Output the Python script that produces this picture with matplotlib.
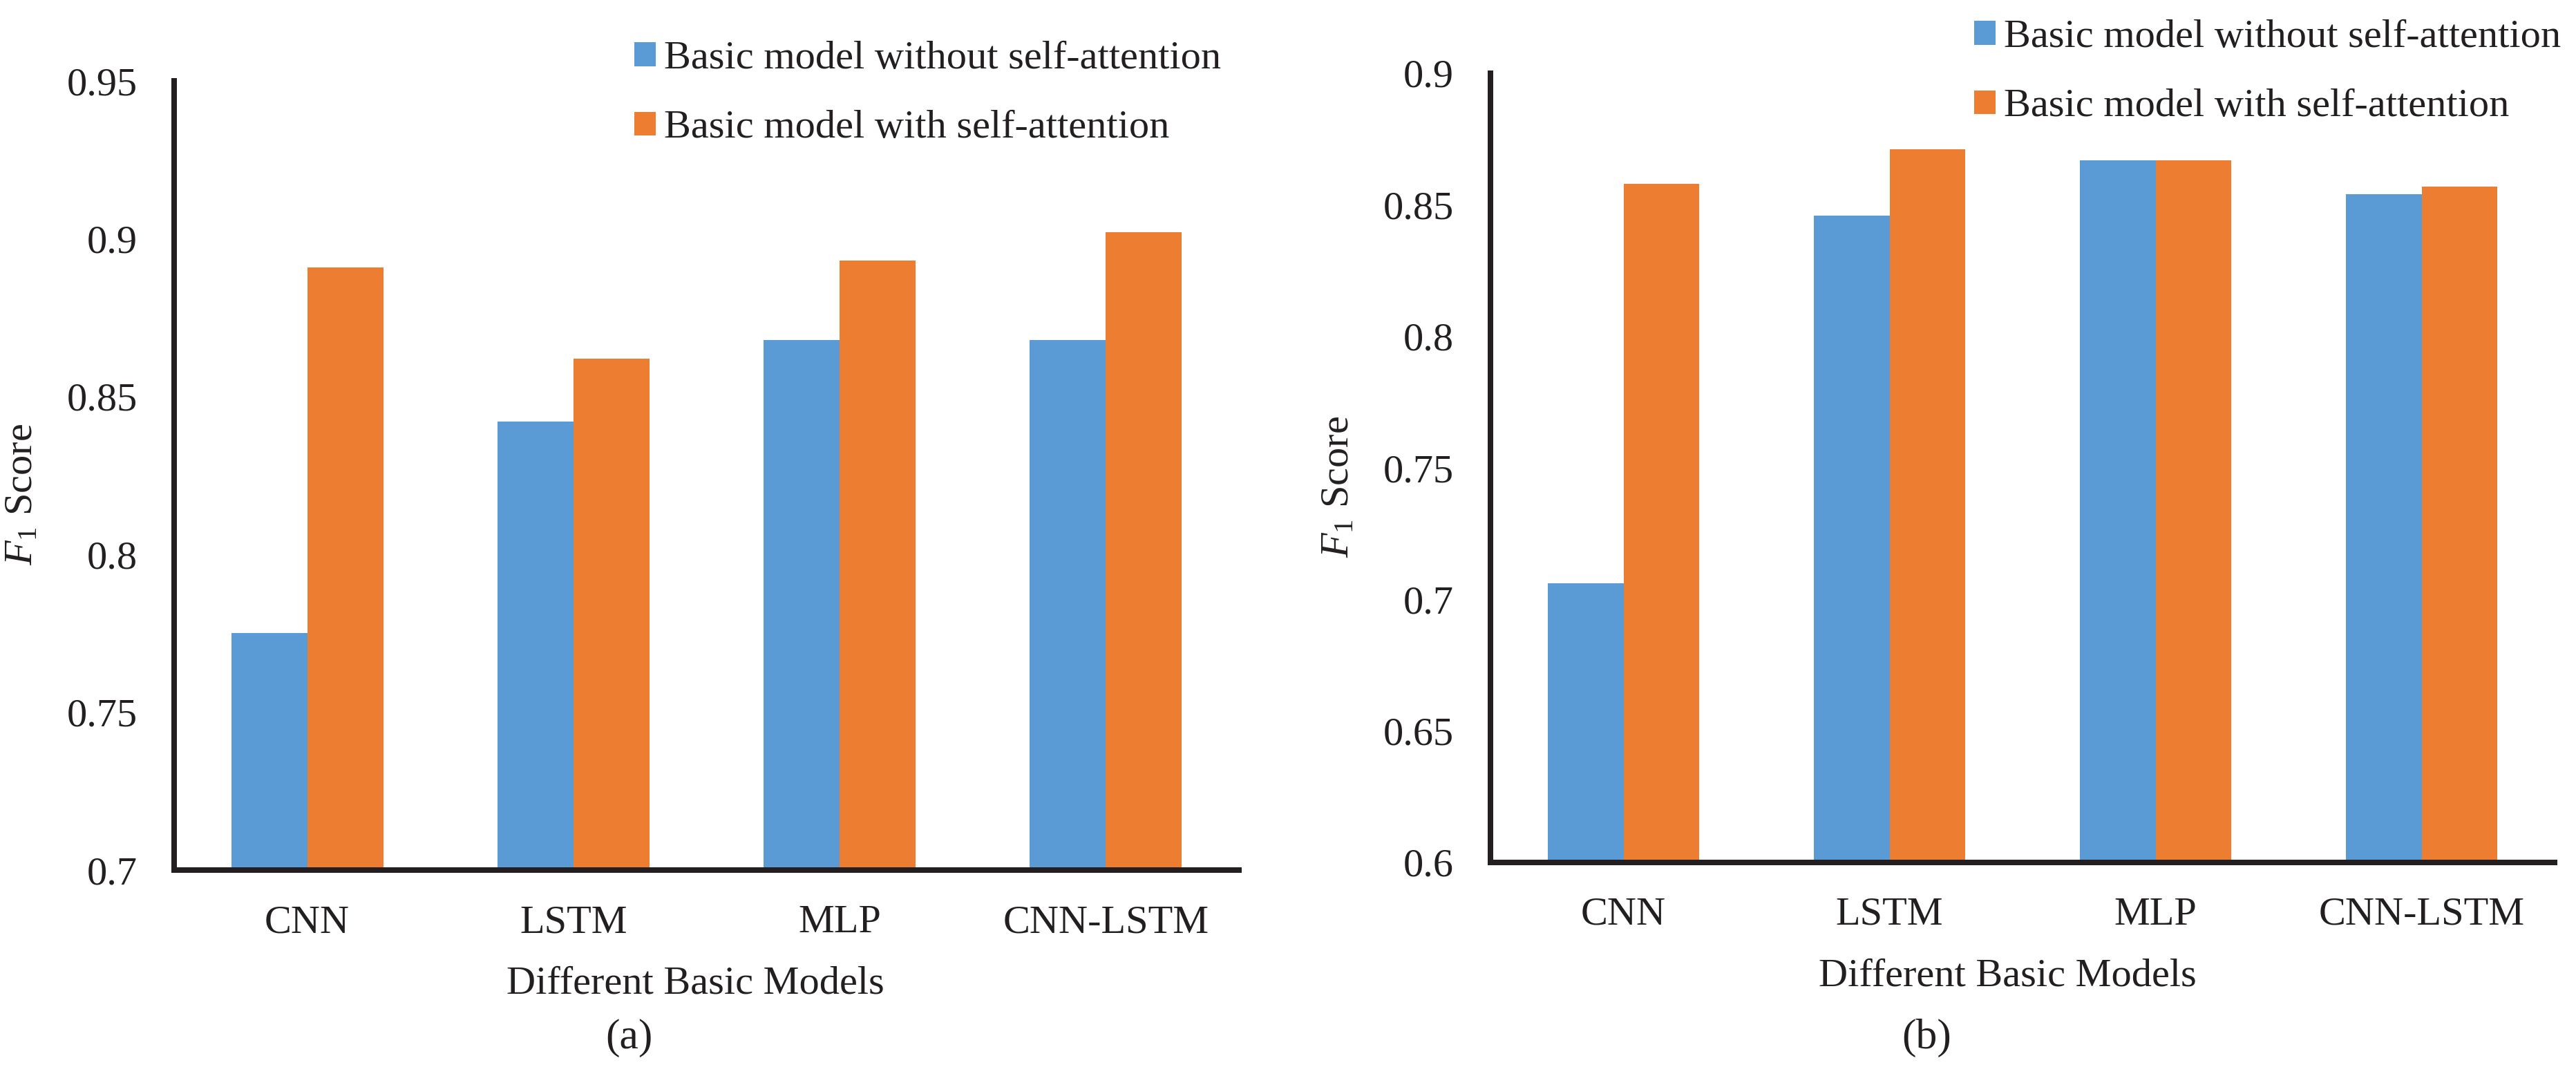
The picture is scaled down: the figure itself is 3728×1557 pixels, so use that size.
import matplotlib
matplotlib.use("Agg")
import matplotlib.pyplot as plt
from matplotlib.patches import Patch
from matplotlib.ticker import FuncFormatter
import numpy as np

plt.rcParams["font.family"] = ["Liberation Serif", "DejaVu Serif"]
plt.rcParams["mathtext.fontset"] = "custom"
plt.rcParams["mathtext.rm"] = "Liberation Serif"
plt.rcParams["mathtext.it"] = "Liberation Serif:italic"

# data
models = ["CNN", "LSTM", "MLP", "CNN-LSTM"]
series_names = ["Basic model without self-attention", "Basic model with self-attention"]

a_without = [0.775, 0.842, 0.868, 0.868]
a_with = [0.891, 0.862, 0.893, 0.902]
a_ticks = [0.7, 0.75, 0.8, 0.85, 0.9, 0.95]

b_without = [0.706, 0.846, 0.867, 0.854]
b_with = [0.858, 0.871, 0.867, 0.857]
b_ticks = [0.6, 0.65, 0.7, 0.75, 0.8, 0.85, 0.9]

blue = "#5B9BD5"
orange = "#ED7D31"
ink = "#231F20"
fs = 17.5

W, H = 3728, 1557
fig = plt.figure(figsize=(W / 240, H / 240), dpi=240)


def DrawPanel(rect, without, with_, ticks, tag, tag_x, leg_pos, xlab_x):
    ax = fig.add_axes(rect)
    x = np.arange(len(models))
    bw = 0.2857
    ax.bar(x - bw / 2, without, bw, color=blue, label=series_names[0])
    ax.bar(x + bw / 2, with_, bw, color=orange, label=series_names[1])
    ax.set_xlim(-0.5, len(models) - 0.5)
    ax.set_ylim(ticks[0], ticks[-1])
    ax.set_yticks(ticks)
    ax.yaxis.set_major_formatter(FuncFormatter(lambda v, p: "%g" % round(v, 2)))
    ax.set_xticks(x)
    ax.set_xticklabels(models)
    ax.tick_params(axis="both", length=0, labelsize=fs, colors=ink)
    ax.tick_params(axis="y", pad=16)
    ax.tick_params(axis="x", pad=15)
    for lab in ax.get_xticklabels() + ax.get_yticklabels():
        lab.set_fontfamily(["Liberation Serif", "DejaVu Serif"])
    for side in ["top", "right"]:
        ax.spines[side].set_visible(False)
    for side in ["left", "bottom"]:
        ax.spines[side].set_linewidth(2.4)
        ax.spines[side].set_color(ink)
        ax.spines[side].set_capstyle("projecting")

    ax.set_ylabel(r"$F_1$ Score", fontsize=fs, color=ink)
    ax.yaxis.label.set_va("center")
    ax.yaxis.set_label_coords(-0.1425, 0.476)
    ax.set_xlabel("Different Basic Models", fontsize=fs, color=ink)
    ax.xaxis.label.set_va("baseline")
    ax.xaxis.set_label_coords(xlab_x, -0.1567)

    handles = [Patch(facecolor=blue), Patch(facecolor=orange)]
    ax.legend(handles, series_names, loc="upper left", bbox_to_anchor=leg_pos,
              bbox_transform=fig.transFigure, frameon=False, borderpad=0,
              borderaxespad=0, handlelength=0.53, handleheight=0.53,
              handletextpad=0.2, labelspacing=0.83, fontsize=fs,
              labelcolor=ink)

    fig.text(tag_x / W, 1 - 1502 / H, tag, ha="center", va="center",
             fontsize=18.5, color=ink)
    return ax


DrawPanel([252 / W, 1 - 1259 / H, 1541 / W, 1142 / H], a_without, a_with, a_ticks,
          "(a)", 910, (918 / W, 1 - 59 / H), 0.4893)
DrawPanel([2157 / W, 1 - 1248 / H, 1540 / W, 1142 / H], b_without, b_with, b_ticks,
          "(b)", 2788, (2857 / W, 1 - 28 / H), 0.4857)

fig.savefig("out.png", dpi=240)
